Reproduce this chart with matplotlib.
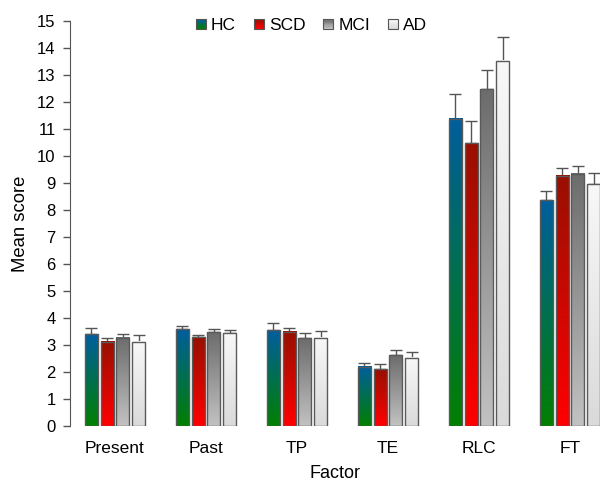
import numpy as np
import matplotlib.pyplot as plt
from matplotlib.colors import LinearSegmentedColormap
from matplotlib.patches import Rectangle
from matplotlib.legend_handler import HandlerBase

plt.rcParams['font.family'] = ['Liberation Sans', 'DejaVu Sans']

factors = ['Present', 'Past', 'TP', 'TE', 'RLC', 'FT']
groups = ['HC', 'SCD', 'MCI', 'AD']

hc = [3.40, 3.59, 3.55, 2.20, 11.38, 8.37]
scd = [3.12, 3.28, 3.50, 2.10, 10.47, 9.27]
mci = [3.27, 3.47, 3.25, 2.62, 12.47, 9.34]
ad = [3.12, 3.43, 3.27, 2.52, 13.52, 8.96]

hc_err = [0.22, 0.10, 0.25, 0.15, 0.92, 0.34]
scd_err = [0.13, 0.08, 0.12, 0.18, 0.84, 0.30]
mci_err = [0.14, 0.11, 0.20, 0.18, 0.72, 0.30]
ad_err = [0.25, 0.13, 0.25, 0.23, 0.88, 0.42]

# gradient colours, top -> bottom
grad = {
    'HC': ('#005e9e', '#008000'),
    'SCD': ('#981000', '#ff0000'),
    'MCI': ('#6c6c6c', '#c2c2c2'),
    'AD': ('#f8f8f8', '#dadada'),
}

values = [hc, scd, mci, ad]
errors = [hc_err, scd_err, mci_err, ad_err]

fig = plt.figure(figsize=(6, 4.83), dpi=100)
ax = fig.add_axes([69.5 / 600, 57 / 483, 1 - 69.5 / 600, (426 - 21) / 483])

x = np.arange(len(factors))
slot = 0.175
width = 0.143
ramp = np.linspace(0, 1, 256).reshape(-1, 1)

for i, g in enumerate(groups):
    pos = x + (i - 1.5) * slot
    cmap = LinearSegmentedColormap.from_list(g, [grad[g][1], grad[g][0]])
    bars = ax.bar(pos, values[i], width, facecolor='none', edgecolor='#5a5a5a',
                  linewidth=1, zorder=3)
    for b in bars:
        bx, bw, bh = b.get_x(), b.get_width(), b.get_height()
        ax.imshow(ramp, cmap=cmap, origin='lower', aspect='auto',
                  extent=(bx, bx + bw, 0, bh), zorder=2)
    ax.errorbar(pos, values[i], yerr=[np.zeros(len(factors)), errors[i]],
                fmt='none', ecolor='#555555', elinewidth=1, capsize=4.5,
                capthick=1, zorder=1)

ax.set_xlim(-0.5, 5.33)
ax.set_ylim(0, 15)
ax.set_yticks(range(0, 16))
ax.set_xticks(x)
ax.set_xticklabels(factors)
ax.tick_params(axis='x', length=0, pad=11, labelsize=12.5)
ax.tick_params(axis='y', length=5, width=1, color='#555555', labelsize=12, pad=5)
for s in ['top', 'right', 'bottom']:
    ax.spines[s].set_visible(False)
ax.spines['left'].set_color('#555555')
ax.set_xlabel('Factor', fontsize=13, labelpad=6)
ax.set_ylabel('Mean score', fontsize=13.3, labelpad=6)


class GradHandler(HandlerBase):
    def __init__(self, top, bottom):
        super().__init__()
        self.top = top
        self.bottom = bottom

    def create_artists(self, legend, orig, xd, yd, w, h, fontsize, trans):
        cmap = LinearSegmentedColormap.from_list('l', [self.bottom, self.top])
        s = h * 0.85
        x0 = xd + w - s
        y0 = yd + (h - s) / 2
        arts = []
        n = 8
        for k in range(n):
            arts.append(Rectangle((x0, y0 + k * s / n), s, s / n + 0.2,
                                  facecolor=cmap(k / (n - 1)), edgecolor='none',
                                  transform=trans))
        arts.append(Rectangle((x0, y0), s, s, facecolor='none',
                              edgecolor='#555555', linewidth=0.8, transform=trans))
        return arts


handles = [Rectangle((0, 0), 1, 1) for g in groups]
hmap = {h: GradHandler(*grad[g]) for h, g in zip(handles, groups)}
fig.legend(handles, ['HC', 'SCD', 'MCI', 'AD'], handler_map=hmap, loc='center',
           bbox_to_anchor=(0.517, 0.947), ncol=4, frameon=False, fontsize=12.5,
           handlelength=0.75, handletextpad=0.3, columnspacing=0.85)

fig.savefig('out.png', dpi=100)
